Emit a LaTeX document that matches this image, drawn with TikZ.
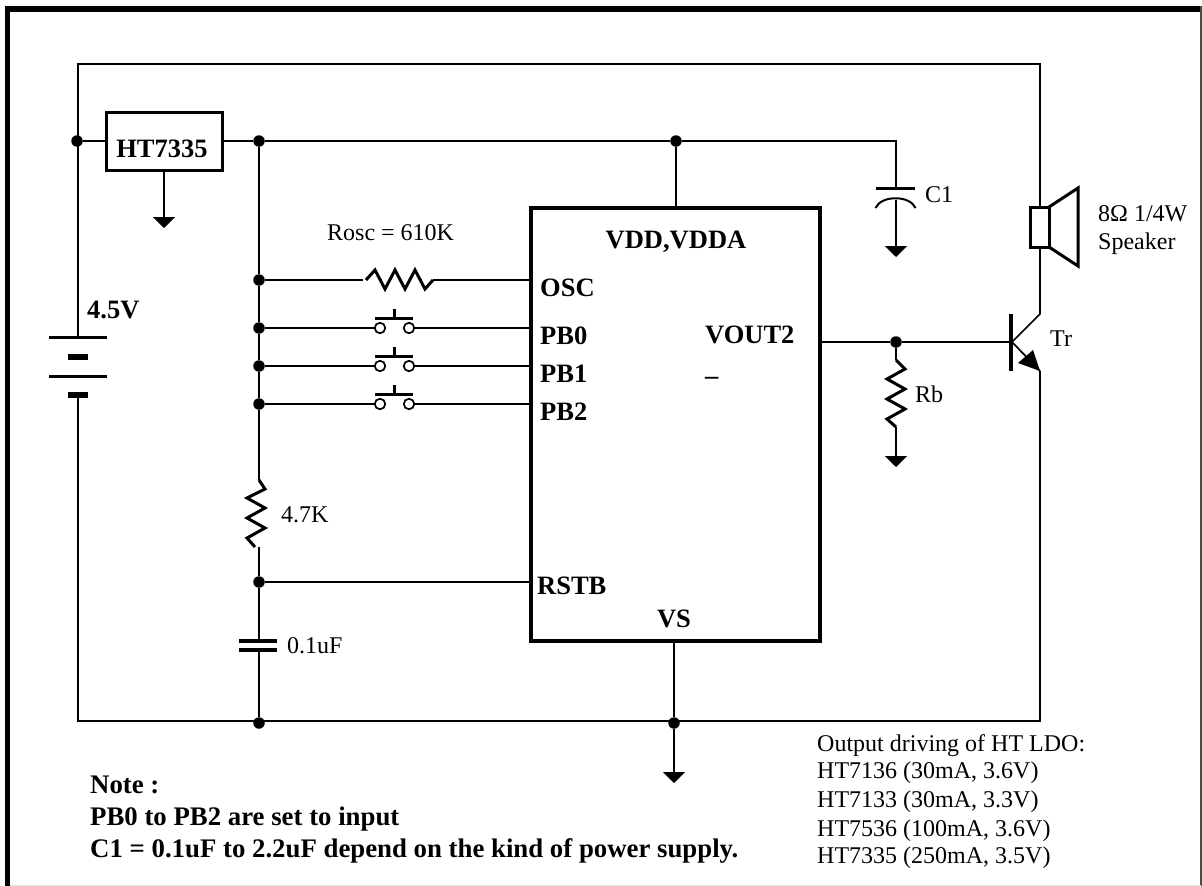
\documentclass[tikz,border=0pt]{standalone}
\usepackage{fontspec}
\setmainfont{Liberation Serif}
\usetikzlibrary{arrows.meta}
\tikzstyle{wire} = [line width=1.7pt]
\tikzstyle{part} = [line width=3pt]
\tikzstyle{gnd} = [wire,-{Triangle[width=22pt,length=11pt]}]
\tikzstyle{dot} = [circle,fill=black,inner sep=0pt,minimum size=11.5pt]
\tikzstyle{pin} = [font=\fontsize{26.5}{30}\selectfont\bfseries,inner sep=0pt]
\tikzstyle{remark} = [font=\fontsize{26.8}{30}\selectfont\bfseries,inner sep=0pt]
\tikzstyle{val} = [font=\fontsize{24}{28}\selectfont,inner sep=0pt]
\tikzstyle{contact} = [circle,draw,line width=1.7pt,fill=white,inner sep=0pt,minimum size=10.5pt]

\begin{document}
\begin{tikzpicture}[x=1pt,y=-1pt]
	\useasboundingbox (0,0) rectangle (1202,886);
	\draw [line width=6pt] (5,9) -- (1202,9);
	\draw [line width=5pt] (7.5,6) -- (7.5,886);
	\draw [line width=1.5pt,black!70] (1201.2,6) -- (1201.2,886);
	\draw [line width=1pt,black!10] (10,885.5) -- (1201,885.5);

	%Nodes
	\node [dot] (jin) at (77,141) {};
	\node [dot] (jreg) at (259,141) {};
	\node [dot] (jvdd) at (676,141) {};
	\node [dot] (josc) at (259,280) {};
	\node [dot] (jpb0) at (259,328) {};
	\node [dot] (jpb1) at (259,366) {};
	\node [dot] (jpb2) at (259,404) {};
	\node [dot] (jrst) at (259,582) {};
	\node [dot] (jbot) at (259,723) {};
	\node [dot] (jvs) at (674,723) {};
	\node [dot] (jrb) at (896,342) {};

	\node [draw,line width=3pt,minimum width=116pt,minimum height=58pt,inner sep=0pt] (reg) at (164,141) {};
	\node [pin,anchor=base] (regname) at (162,157) {HT7335};
	\node [draw,line width=3.5pt,minimum width=289pt,minimum height=433pt,inner sep=0pt] (ic) at (675.5,424.5) {};

	\node [pin,anchor=base] (vdd) at (676,248) {VDD,VDDA};
	\node [pin,anchor=base west] (osc) at (540,296) {OSC};
	\node [pin,anchor=base west] (pb0) at (540,344) {PB0};
	\node [pin,anchor=base west] (pb1) at (540,382) {PB1};
	\node [pin,anchor=base west] (pb2) at (540,420) {PB2};
	\node [pin,anchor=base west] (vout) at (705,343) {VOUT2};
	\node [pin,anchor=base west] (under) at (705,375) {\_};
	\node [pin,anchor=base west] (rstb) at (537,594) {RSTB};
	\node [pin,anchor=base] (vs) at (674,627) {VS};
	\node [pin,anchor=base west] (batt) at (87,318) {4.5V};

	\node [val,anchor=base west] (rosc) at (327,240) {Rosc = 610K};
	\node [val,anchor=base west] (r47) at (281,522) {4.7K};
	\node [val,anchor=base west] (c01) at (287,653) {0.1uF};
	\node [val,anchor=base west] (c1) at (925,202) {C1};
	\node [val,anchor=base west] (rbname) at (915,402) {Rb};
	\node [val,anchor=base west] (tr) at (1050,346) {Tr};
	\node [val,anchor=base west] (spk) at (1098,221) {8Ω 1/4W};
	\node [val,anchor=base west] (spk2) at (1098,249) {Speaker};

	\node [remark,anchor=base west] (note) at (90,793) {Note :};
	\node [remark,anchor=base west] (note1) at (90,825) {PB0 to PB2 are set to input};
	\node [remark,anchor=base west] (note2) at (90,857) {C1 = 0.1uF to 2.2uF depend on the kind of power supply.};

	\node [val,anchor=base west] (ldo) at (817,751) {Output driving of HT LDO:};
	\node [val,anchor=base west] (ldo1) at (817,778) {HT7136 (30mA, 3.6V)};
	\node [val,anchor=base west] (ldo2) at (817,807) {HT7133 (30mA, 3.3V)};
	\node [val,anchor=base west] (ldo3) at (817,836) {HT7536 (100mA, 3.6V)};
	\node [val,anchor=base west] (ldo4) at (817,863) {HT7335 (250mA, 3.5V)};

	\foreach \name/\y in {a/328,b/366,c/404}
	{
		\node [contact] (swl\name) at (380,\y) {};
		\node [contact] (swr\name) at (409,\y) {};
		\draw [part] (375,\y-10) -- (413,\y-10);
		\draw [part] (394,\y-10) -- (394,\y-19);
	}

	\coordinate (tl) at (78,64);
	\coordinate (tr1) at (1040,64);
	\coordinate (bl) at (78,721);
	\coordinate (br) at (1040,721);
	\coordinate (bat1) at (78,337);
	\coordinate (bat2) at (78,395);
	\coordinate (c1top) at (896,188);
	\coordinate (c1bot) at (896,200);
	\coordinate (rosca) at (363,280);
	\coordinate (roscb) at (433,280);
	\coordinate (rbtop) at (896,360);
	\coordinate (rbbot) at (896,427);
	\coordinate (r47top) at (259,480);
	\coordinate (r47bot) at (259,547);
	\coordinate (c01a) at (259,641);
	\coordinate (c01b) at (259,650);
	\coordinate (base) at (1012,342);
	\coordinate (coll) at (1040,314);
	\coordinate (emit) at (1040,371);
	\coordinate (spktop) at (1040,207);
	\coordinate (spkbot) at (1040,247);

	%Lines
	\draw [wire] (bat1) -- (tl) -- (tr1) -- (spktop);
	\draw [wire] (bat2) -- (bl) -- (br) -- (emit);
	\draw [wire] (jin) -- (reg);
	\draw [wire] (reg) -- (jreg) -- (jvdd) -- (896,141) -- (c1top);
	\draw [wire] (jvdd) -- (ic.north -| jvdd);
	\draw [wire] (jreg) -- (josc) -- (jpb0) -- (jpb1) -- (jpb2) -- (r47top);
	\draw [wire] (josc) -- (rosca);
	\draw [wire] (roscb) -- (ic.west |- roscb);
	\draw [wire] (jpb0) -- (swla);
	\draw [wire] (jpb1) -- (swlb);
	\draw [wire] (jpb2) -- (swlc);
	\draw [wire] (swra) -- (ic.west |- swra);
	\draw [wire] (swrb) -- (ic.west |- swrb);
	\draw [wire] (swrc) -- (ic.west |- swrc);
	\draw [wire] (r47bot) -- (jrst) -- (c01a);
	\draw [wire] (jrst) -- (ic.west |- jrst);
	\draw [wire] (c01b) -- (jbot);
	\draw [wire] (ic.east |- jrb) -- (jrb) -- (base);
	\draw [wire] (jrb) -- (rbtop);
	\draw [wire] (spkbot) -- (coll) -- (base) -- (emit);
	\draw [wire] (ic.south -| jvs) -- (jvs);

	\draw [gnd] (reg) -- (164,228);
	\draw [gnd] (c1bot) -- (896,257);
	\draw [gnd] (rbbot) -- (896,467);
	\draw [gnd] (jvs) -- (674,783);

	%Symbols
	\draw [part] (49,337) -- (107,337);
	\draw [line width=6pt] (68,357) -- (88,357);
	\draw [part] (49,376) -- (107,376);
	\draw [line width=6pt] (68,395) -- (88,395);
	\draw [part] (876,188.5) -- (915,188.5);
	\draw [line width=2pt] (875.5,208) .. controls (881,195) and (910,195) .. (915.5,208);
	\draw [line width=3.5pt] (239,641) -- (277,641);
	\draw [line width=3.5pt] (239,650) -- (277,650);
	\draw [part] (366,280) -- (375,270) -- (385,289) -- (395,270) -- (405,289) -- (415,270) -- (425,289) -- (433,280);
	\draw [part] (r47top) -- (265,489) -- (247,498) -- (265,508) -- (247,518) -- (265,528) -- (247,538) -- (255,547);
	\draw [part] (rbtop) -- (905,369) -- (887,379) -- (905,389) -- (887,399) -- (905,409) -- (887,419) -- (rbbot);
	\draw [part,fill=white] (1030,207) rectangle (1049,247);
	\draw [part] (1049,207) -- (1078,188) -- (1078,266) -- (1049,247);
	\draw [line width=3.5pt] (1011,314) -- (1011,371);
	\fill (emit) -- (1018,363) -- (1033,350) -- cycle;
\end{tikzpicture}
\end{document}
